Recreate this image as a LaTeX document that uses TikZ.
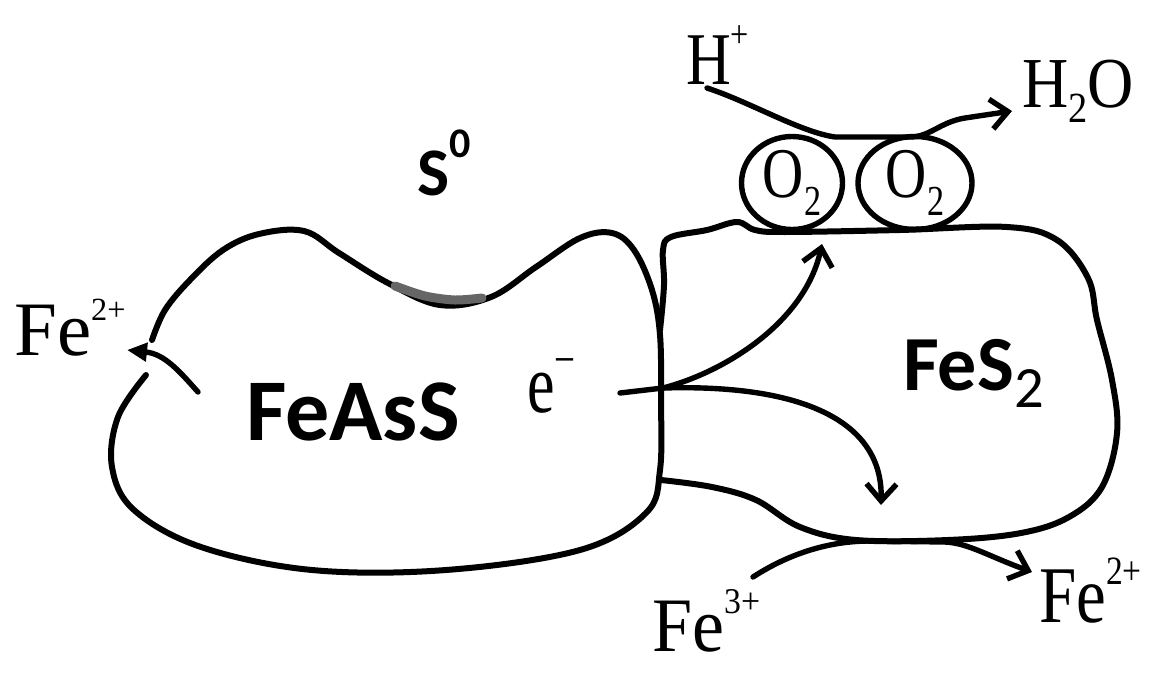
\documentclass[tikz,border=0pt]{standalone}
\usepackage{fontspec}
\setmainfont{Liberation Serif}
\newfontfamily\labelsans{Carlito}
\usetikzlibrary{arrows.meta,shapes.geometric}

% raised / lowered small text: #1 shift, #2 scale, #3 text
\newcommand{\upsc}[3]{\raisebox{#1}{\scalebox{#2}{#3}}}
% vertically stretched label text
\newcommand{\tall}[2]{\scalebox{1}[#1]{#2}}

\begin{document}
\begin{tikzpicture}[x=1pt,y=-1pt,
  outline/.style={line width=6pt, line join=round, line cap=round},
  flow/.style={line width=5.4pt, line cap=round, line join=round},
  barb/.style={-{Straight Barb[length=17pt,width=30pt]}},
  filledtip/.style={-{Triangle[length=20pt,width=18pt]}},
  serif lbl/.style={inner sep=0pt, anchor=base west},
  sans lbl/.style={inner sep=0pt, anchor=base west},
  molecule/.style={ellipse, draw, line width=5.4pt, inner sep=0pt, font=\fontsize{57}{60}\selectfont},
]
\useasboundingbox (0,0) rectangle (1156,674);

% FeAsS grain outline (open on the left where Fe2+ leaves)
\draw[outline] plot[smooth, tension=0.6] coordinates {(152,340) (165,310) (190,280) (223,250) (259,234) (304,231) (339,253) (388,283) (440,305) (491,297) (536,267) (580,238) (612,233) (634,250) (652,290) (660,335) (661,400) (660,470) (646,513) (580,550) (446,570) (312,570) (201,547) (134,510) (112,467) (118,417) (146,375)};

% sulfur layer in the hollow
\draw[line width=9pt, color=black!60, line cap=round] plot[smooth] coordinates {(395,286) (425,296) (455,300) (482,298)};

% FeS2 grain outline
\draw[outline] plot[smooth, tension=0.6] coordinates {(660,330) (664,285) (663,250) (671,237) (707,230) (737,222) (755,230) (785,232) (900,230) (1007,227) (1057,240) (1088,278) (1097,320) (1112,380) (1117,433) (1102,487) (1069,517) (1021,533) (948,540) (856,540) (800,527) (756,500) (712,487) (661,480)};

% oxygen molecules
\node[molecule, minimum width=101pt, minimum height=93pt] (o2a) at (792,183) {\tall{1.25}{O\upsc{-0.25em}{0.6}{2}}};
\node[molecule, minimum width=114pt, minimum height=93pt] (o2b) at (915,183) {\tall{1.25}{O\upsc{-0.25em}{0.6}{2}}};

% labels
\node[sans lbl, font=\labelsans\bfseries\fontsize{68}{70}\selectfont] (s0) at (417,195) {S\upsc{0.55em}{0.62}{0}};
\node[sans lbl, font=\labelsans\bfseries\fontsize{88}{90}\selectfont] (feass) at (246,440) {FeAsS};
\node[sans lbl, font=\labelsans\bfseries\fontsize{78}{80}\selectfont] (fes2) at (903,390) {FeS\upsc{-0.23em}{0.75}{\mdseries 2}};
\node[serif lbl, font=\fontsize{62}{66}\selectfont] (em) at (527,412) {\tall{1.35}{e\upsc{0.42em}{0.6}{\char"2212}}};
\node[serif lbl, font=\fontsize{77}{80}\selectfont] (fe2l) at (14,355) {Fe\upsc{0.45em}{0.42}{2+}};
\node[serif lbl, font=\fontsize{62}{64}\selectfont] (hp) at (686,85) {\tall{1.2}{H\upsc{0.5em}{0.52}{+}}};
\node[serif lbl, font=\fontsize{64}{66}\selectfont] (h2o) at (1022,108) {\tall{1.12}{H\upsc{-0.2em}{0.6}{2}O}};
\node[serif lbl, font=\fontsize{72}{76}\selectfont] (fe3) at (652,651) {\tall{1.07}{Fe\upsc{0.49em}{0.47}{3+}}};
\node[serif lbl, font=\fontsize{67}{74}\selectfont] (fe2r) at (1039,622) {\tall{1.2}{Fe\upsc{0.47em}{0.5}{2+}}};

% connector end points
\coordinate (fe2src) at (198,392);
\coordinate (fe2tip) at (127,350);
\coordinate (e0) at (620,393);
\coordinate (ej) at (663,388);
\coordinate (o2site) at (822,244);
\coordinate (fes2site) at (881,505);
\coordinate (hsrc) at (707,88);
\coordinate (h2otip) at (1012,111);
\coordinate (fe3src) at (753,577);
\coordinate (fe2rtip) at (1032,572);

% Fe2+ released from FeAsS
\draw[flow, filledtip] (fe2src) .. controls (180,372) and (165,354) .. (fe2tip);

% electron transfer
\draw[flow] (e0) -- (ej);
\draw[flow, barb] (ej) .. controls (725,372) and (805,322) .. (o2site);
\draw[flow, barb] (ej) .. controls (800,384) and (883,420) .. (fes2site);

% oxygen reduction: H+ -> H2O
\draw[flow, barb] (hsrc) .. controls (750,102) and (800,132) .. (835,137) -- (910,137)
  .. controls (930,137) and (940,122) .. (965,118) -- (h2otip);

% Fe3+ -> Fe2+ on FeS2
\draw[flow, barb] (fe3src) .. controls (790,553) and (830,541) .. (870,541) -- (945,542)
  .. controls (968,543) and (988,556) .. (fe2rtip);
\end{tikzpicture}
\end{document}
